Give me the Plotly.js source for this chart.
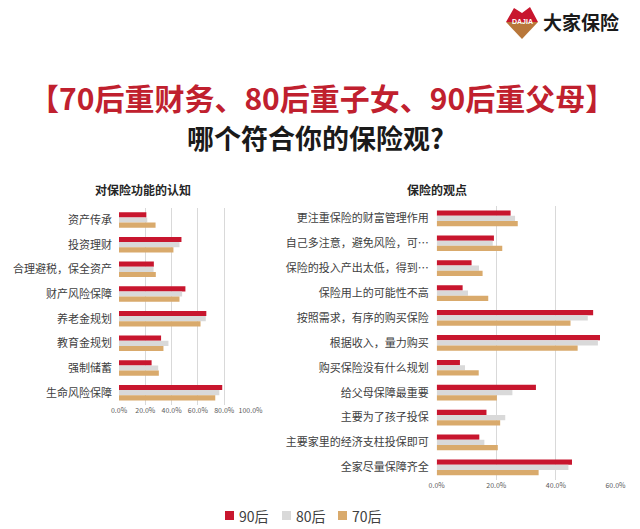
<!DOCTYPE html>
<html>
<head>
<meta charset="utf-8">
<script src="https://cdn.plot.ly/plotly-3.0.1.min.js"></script>
<style>html,body{margin:0;padding:0;background:#fff;}#chart{width:640px;height:529px;}</style>
</head>
<body>
<div id="chart"></div>
<script>
// ---- data ----
const seriesNames = ['90后', '80后', '70后'];
const seriesColors = ['#C8162E', '#D9D9D9', '#D9AA6C'];

const leftCategories = ['资产传承', '投资理财', '合理避税，保全资产', '财产风险保障', '养老金规划', '教育金规划', '强制储蓄', '生命风险保障'];
const left90 = [0.208, 0.475, 0.265, 0.505, 0.664, 0.32, 0.248, 0.785];
const left80 = [0.215, 0.46, 0.263, 0.48, 0.66, 0.376, 0.298, 0.763];
const left70 = [0.278, 0.414, 0.28, 0.46, 0.62, 0.338, 0.303, 0.732];

const rightCategories = ['更注重保险的财富管理作用', '自己多注意，避免风险，可…', '保险的投入产出太低，得到…', '保险用上的可能性不高', '按照需求，有序的购买保险', '根据收入，量力购买', '购买保险没有什么规划', '给父母保障最重要', '主要为了孩子投保', '主要家里的经济支柱投保即可', '全家尽量保障齐全'];
const right90 = [0.248, 0.192, 0.117, 0.087, 0.525, 0.548, 0.078, 0.333, 0.167, 0.143, 0.454];
const right80 = [0.263, 0.188, 0.142, 0.105, 0.507, 0.541, 0.095, 0.254, 0.23, 0.16, 0.442];
const right70 = [0.272, 0.22, 0.154, 0.173, 0.449, 0.473, 0.141, 0.202, 0.213, 0.205, 0.342];

const leftTicks = [0, 0.2, 0.4, 0.6, 0.8, 1.0];
const leftTickText = ['0.0%', '20.0%', '40.0%', '60.0%', '80.0%', '100.0%'];
const rightTicks = [0, 0.2, 0.4, 0.6];
const rightTickText = ['0.0%', '20.0%', '40.0%', '60.0%'];

// ---- layout helpers (pixel -> paper) ----
const W = 640, H = 529;
const px = x => x / W;
const py = y => 1 - y / H;

const leftVals = [left90, left80, left70];
const rightVals = [right90, right80, right70];
const traces = [];
for (let i = 0; i < 3; i++) {
  traces.push({
    type: 'bar', orientation: 'h', name: seriesNames[i],
    y: leftCategories, x: leftVals[i],
    marker: {color: seriesColors[i]},
    xaxis: 'x', yaxis: 'y', showlegend: false, hoverinfo: 'none'
  });
}
for (let i = 0; i < 3; i++) {
  traces.push({
    type: 'bar', orientation: 'h', name: seriesNames[i],
    y: rightCategories, x: rightVals[i],
    marker: {color: seriesColors[i]},
    xaxis: 'x2', yaxis: 'y2', showlegend: false, hoverinfo: 'none'
  });
}

const tickFont = {family: 'Noto Sans CJK SC, sans-serif', size: 7, color: '#595959'};
const catFont = {family: 'Noto Sans CJK SC, sans-serif', size: 11, color: '#404040'};

const shapes = [
  {type: 'path', xref: 'paper', yref: 'paper',
   path: `M${px(506)},${py(22)} L${px(514)},${py(8)} L${px(522)},${py(13)} L${px(530)},${py(7)} L${px(538)},${py(22)} Z`,
   fillcolor: '#C8162E', line: {width: 0}},
  {type: 'path', xref: 'paper', yref: 'paper',
   path: `M${px(506)},${py(22)} L${px(538)},${py(22)} L${px(522)},${py(39)} Z`,
   fillcolor: '#B8773A', line: {width: 0}}
];
const annotations = [
  {text: 'DAJIA', xref: 'paper', yref: 'paper', x: px(522), y: py(21), xanchor: 'center', yanchor: 'middle',
   showarrow: false, font: {family: 'Liberation Sans, sans-serif', size: 7, color: '#ffffff', weight: 'bold'}},
  {text: '大家保险', xref: 'paper', yref: 'paper', x: px(541), y: py(22), xanchor: 'left', yanchor: 'middle',
   showarrow: false, font: {family: 'Noto Sans CJK SC, sans-serif', size: 19, color: '#1a1a1a', weight: 'bold'}},
  {text: '【70后重财务、80后重子女、90后重父母】', xref: 'paper', yref: 'paper', x: px(322), y: py(97), xanchor: 'center', yanchor: 'middle',
   showarrow: false, font: {family: 'Noto Sans CJK SC, sans-serif', size: 30, color: '#C0202E', weight: 'bold'}},
  {text: '哪个符合你的保险观?', xref: 'paper', yref: 'paper', x: px(315), y: py(137), xanchor: 'center', yanchor: 'middle',
   showarrow: false, font: {family: 'Noto Sans CJK SC, sans-serif', size: 27, color: '#1a1a1a', weight: 'bold'}},
  {text: '对保险功能的认知', xref: 'paper', yref: 'paper', x: px(143), y: py(189), xanchor: 'center', yanchor: 'middle',
   showarrow: false, font: {family: 'Noto Sans CJK SC, sans-serif', size: 12, color: '#262626', weight: 'bold'}},
  {text: '保险的观点', xref: 'paper', yref: 'paper', x: px(437), y: py(189), xanchor: 'center', yanchor: 'middle',
   showarrow: false, font: {family: 'Noto Sans CJK SC, sans-serif', size: 12, color: '#262626', weight: 'bold'}}
];
// manual legend
const legendX = [225, 282, 338];
for (let i = 0; i < 3; i++) {
  shapes.push({type: 'rect', xref: 'paper', yref: 'paper',
    x0: px(legendX[i]), x1: px(legendX[i] + 9), y0: py(520), y1: py(511),
    fillcolor: seriesColors[i], line: {width: 0}});
  annotations.push({text: seriesNames[i], xref: 'paper', yref: 'paper',
    x: px(legendX[i] + 12), y: py(516), xanchor: 'left', yanchor: 'middle', showarrow: false,
    font: {family: 'Noto Sans CJK SC, sans-serif', size: 14, color: '#404040'}});
}

const layout = {
  width: W, height: H,
  margin: {l: 0, r: 0, t: 0, b: 0},
  paper_bgcolor: '#ffffff', plot_bgcolor: '#ffffff',
  barmode: 'group', bargap: 0.37, bargroupgap: 0,
  font: {family: 'Noto Sans CJK SC, sans-serif'},
  showlegend: false,
  xaxis: {
    domain: [px(119), px(250.5)], range: [0, 1.0], anchor: 'y',
    tickvals: leftTicks, ticktext: leftTickText, tickfont: tickFont,
    showgrid: true, gridcolor: '#D9D9D9', gridwidth: 1,
    zeroline: false, showline: false, ticks: '', fixedrange: true
  },
  yaxis: {
    domain: [py(405), py(207.7)], anchor: 'x', autorange: 'reversed',
    type: 'category', tickfont: catFont, ticks: '', ticklabelstandoff: 6,
    showgrid: false, zeroline: false, showline: false, fixedrange: true
  },
  xaxis2: {
    domain: [px(436.7), px(615.5)], range: [0, 0.6], anchor: 'y2',
    tickvals: rightTicks, ticktext: rightTickText, tickfont: tickFont,
    showgrid: true, gridcolor: '#D9D9D9', gridwidth: 1,
    zeroline: false, showline: false, ticks: '', fixedrange: true
  },
  yaxis2: {
    domain: [py(479.8), py(205.9)], anchor: 'x2', autorange: 'reversed',
    type: 'category', tickfont: catFont, ticks: '', ticklabelstandoff: 7,
    showgrid: false, zeroline: false, showline: false, fixedrange: true
  },
  shapes: shapes,
  annotations: annotations
};

Plotly.newPlot('chart', traces, layout, {displayModeBar: false, staticPlot: true});
</script>
</body>
</html>
